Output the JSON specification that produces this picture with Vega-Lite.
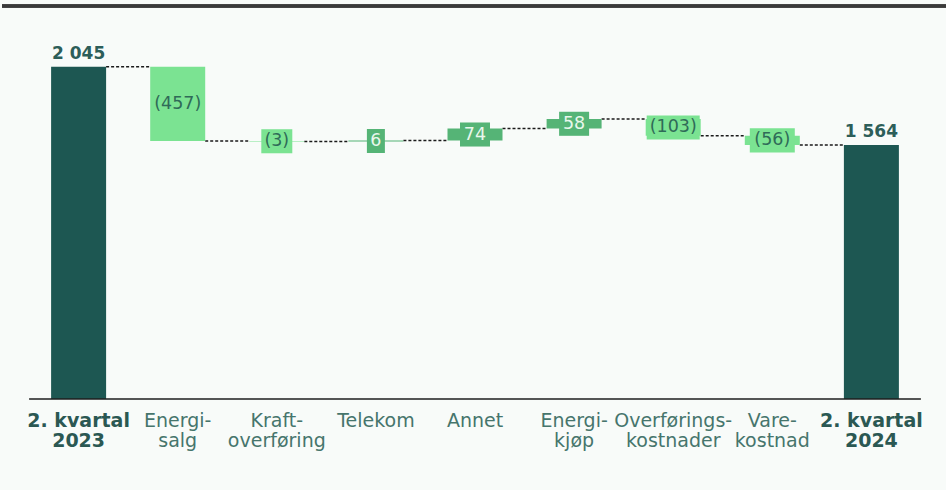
{
  "$schema": "https://vega.github.io/schema/vega-lite/v6.json",
  "width": 946,
  "height": 393,
  "padding": {"top": 4, "left": 0, "right": 0, "bottom": 40},
  "background": "#f8fbf9",
  "config": {"view": {"stroke": null}, "font": "DejaVu Sans"},
  "data": {
    "values": [
      {"k": "2. kvartal|2023", "next": "Energi-|salg", "s": 0, "e": 2045, "t": "total", "lab": "2 045"},
      {"k": "Energi-|salg", "next": "Kraft-|overføring", "s": 2045, "e": 1588, "t": "neg", "lab": "(457)"},
      {"k": "Kraft-|overføring", "next": "Telekom", "s": 1588, "e": 1585, "t": "neg", "lab": "(3)"},
      {"k": "Telekom", "next": "Annet", "s": 1585, "e": 1591, "t": "pos", "lab": "6"},
      {"k": "Annet", "next": "Energi-|kjøp", "s": 1591, "e": 1665, "t": "pos", "lab": "74"},
      {"k": "Energi-|kjøp", "next": "Overførings-|kostnader", "s": 1665, "e": 1723, "t": "pos", "lab": "58"},
      {"k": "Overførings-|kostnader", "next": "Vare-|kostnad", "s": 1723, "e": 1620, "t": "neg", "lab": "(103)"},
      {"k": "Vare-|kostnad", "next": "2. kvartal|2024", "s": 1620, "e": 1564, "t": "neg", "lab": "(56)"},
      {"k": "2. kvartal|2024", "next": null, "s": 0, "e": 1564, "t": "total", "lab": "1 564"}
    ]
  },
  "layer": [
    {
      "mark": {"type": "rule", "color": "#3a3a3a", "strokeWidth": 2.5},
      "encoding": {"y": {"datum": 2419, "type": "quantitative", "scale": {"domain": [0, 2419], "nice": false, "zero": true}, "axis": null}}
    },
    {
      "transform": [{"filter": "datum.next != null"}],
      "mark": {"type": "rule", "color": "#1a1a1a", "strokeWidth": 1.5, "strokeDash": [3, 2]},
      "encoding": {
        "x": {"field": "k", "type": "nominal", "bandPosition": 1},
        "x2": {"field": "next", "bandPosition": 0},
        "y": {"field": "e", "type": "quantitative"}
      }
    },
    {
      "mark": {"type": "bar"},
      "encoding": {
        "x": {
          "field": "k", "type": "nominal", "sort": null,
          "scale": {
            "domain": ["2. kvartal|2023", "Energi-|salg", "Kraft-|overføring", "Telekom", "Annet", "Energi-|kjøp", "Overførings-|kostnader", "Vare-|kostnad", "2. kvartal|2024"],
            "paddingInner": 0.445, "paddingOuter": 0.4955
          },
          "axis": {
            "title": null, "domain": false, "ticks": false, "labelAngle": 0, "labelAlign": "center",
            "labelExpr": "split(datum.label, '|')",
            "labelFontSize": 19, "labelLineHeight": 20, "labelPadding": 21, "labelLimit": 300,
            "labelColor": {"condition": {"test": "indexof(datum.value, 'kvartal') >= 0", "value": "#2b5853"}, "value": "#46756c"},
            "labelFontWeight": {"condition": {"test": "indexof(datum.value, 'kvartal') >= 0", "value": "bold"}, "value": "normal"}
          }
        },
        "y": {"field": "s", "type": "quantitative"},
        "y2": {"field": "e"},
        "color": {"field": "t", "type": "nominal", "scale": {"domain": ["total", "neg", "pos"], "range": ["#1d5752", "#7be392", "#55b476"]}, "legend": null}
      }
    },
    {
      "transform": [{"filter": "datum.k == '2. kvartal|2023'"}],
      "mark": {"type": "rule", "color": "#1e1e1e", "strokeWidth": 1.6},
      "encoding": {
        "x": {"field": "k", "type": "nominal", "bandPosition": -0.4},
        "x2": {"datum": "2. kvartal|2024", "bandPosition": 1.4},
        "y": {"datum": 0, "type": "quantitative"}
      }
    },
    {
      "transform": [
        {"filter": "datum.t != 'total'"},
        {"calculate": "(datum.s + datum.e) / 2", "as": "mid"},
        {"calculate": "datum.mid - 74", "as": "lo"},
        {"calculate": "datum.mid + 74", "as": "hi"},
        {"calculate": "length(datum.lab)", "as": "len"}
      ],
      "mark": {"type": "bar"},
      "encoding": {
        "x": {"field": "k", "type": "nominal"},
        "y": {"field": "lo", "type": "quantitative"},
        "y2": {"field": "hi"},
        "size": {"field": "len", "type": "quantitative", "scale": {"type": "threshold", "domain": [1.5, 2.5, 3.5, 4.5], "range": [18, 30, 31, 45, 53]}, "legend": null},
        "color": {"field": "t", "type": "nominal", "legend": null}
      }
    },
    {
      "transform": [
        {"filter": "datum.t != 'total'"},
        {"calculate": "(datum.s + datum.e) / 2", "as": "mid"}
      ],
      "mark": {"type": "text", "fontSize": 17.5, "baseline": "middle", "align": "center"},
      "encoding": {
        "x": {"field": "k", "type": "nominal"},
        "y": {"field": "mid", "type": "quantitative"},
        "text": {"field": "lab"},
        "color": {"condition": {"test": "datum.t == 'pos'", "value": "#e9f7ec"}, "value": "#2f6b58"}
      }
    },
    {
      "transform": [{"filter": "datum.t == 'total'"}],
      "mark": {"type": "text", "fontSize": 17, "fontWeight": "bold", "baseline": "alphabetic", "align": "center", "dy": -8, "color": "#2d5e59"},
      "encoding": {
        "x": {"field": "k", "type": "nominal"},
        "y": {"field": "e", "type": "quantitative"},
        "text": {"field": "lab"}
      }
    }
  ]
}
